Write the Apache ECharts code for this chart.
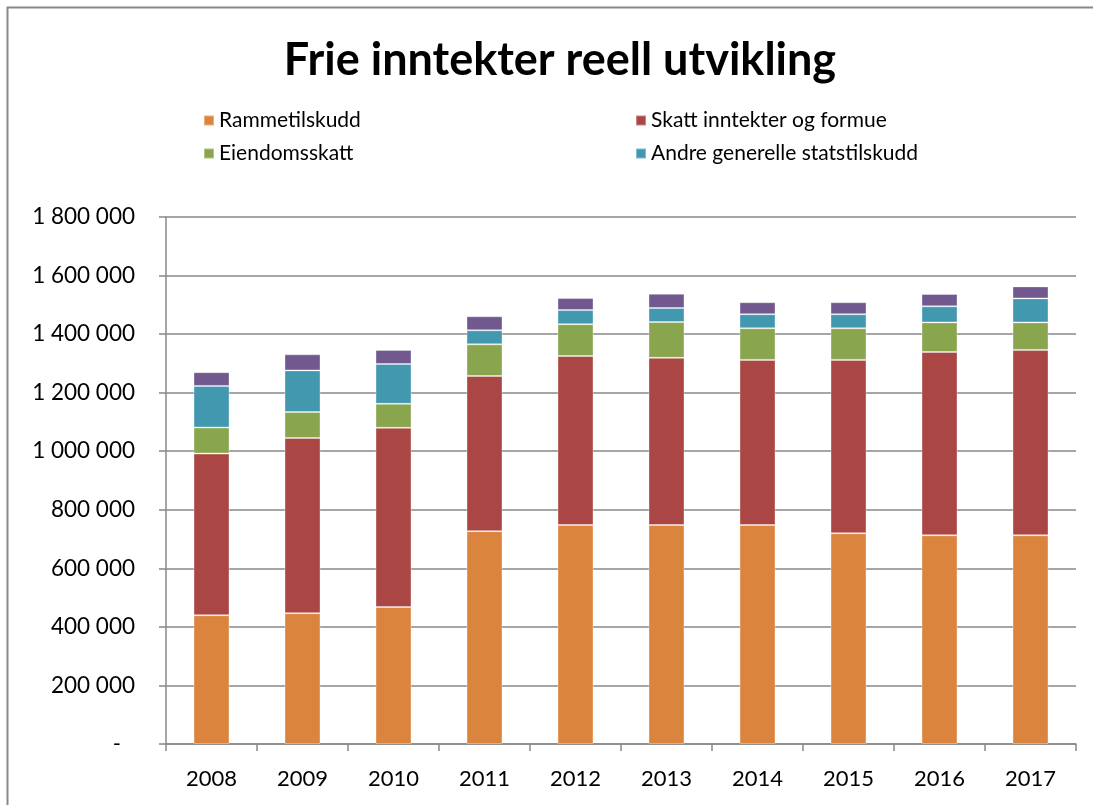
<!DOCTYPE html>
<html>
<head>
<meta charset="utf-8">
<script src="https://cdn.jsdelivr.net/npm/echarts@6/dist/echarts.min.js"></script>
<style>
html,body{margin:0;padding:0;background:#fff;}
#chart{width:1093px;height:805px;}
</style>
</head>
<body>
<div id="chart"></div>
<script>
const years = ['2008','2009','2010','2011','2012','2013','2014','2015','2016','2017'];
const rammetilskudd = [440000, 447000, 468000, 727000, 748000, 748000, 748000, 720000, 713000, 713000];
const skatt = [552000, 598000, 612000, 530000, 577000, 571000, 564000, 592000, 626000, 633000];
const eiendomsskatt = [89000, 89000, 82000, 108000, 109000, 122000, 108000, 108000, 101000, 94000];
const andreTilskudd = [142000, 142000, 136000, 48000, 48000, 48000, 48000, 48000, 55000, 82000];
const annet = [47000, 55000, 48000, 48000, 41000, 49000, 41000, 41000, 42000, 41000];
const yTicks = [0, 200000, 400000, 600000, 800000, 1000000, 1200000, 1400000, 1600000, 1800000];

const names = ['Rammetilskudd', 'Skatt inntekter og formue', 'Eiendomsskatt', 'Andre generelle statstilskudd', 'Annet'];
const colors = ['#DB843D', '#AA4643', '#89A54E', '#4198AF', '#71588F'];
const seriesData = [rammetilskudd, skatt, eiendomsskatt, andreTilskudd, annet];

const font = 'Lato, "Open Sans", sans-serif';
const chart = echarts.init(document.getElementById('chart'), null, {renderer: 'canvas'});

function fmt(v) {
  if (v === 0) return '{d|-}';
  return String(v).replace(/\B(?=(\d{3})+(?!\d))/g, ' ');
}

chart.setOption({
  animation: false,
  backgroundColor: '#fff',
  color: colors,
  title: {
    text: 'Frie inntekter reell utvikling',
    left: 555, top: 33, textAlign: 'center',
    textStyle: {fontFamily: font, fontWeight: 'bold', fontSize: 45, color: '#000'}
  },
  graphic: [{
    type: 'polyline',
    shape: {points: [[7.5, 805], [7.5, 7.5], [1093, 7.5]]},
    style: {stroke: '#888', lineWidth: 2, fill: null}
  }],
  legend: [{
    left: 198, top: 105, orient: 'vertical', itemGap: 12,
    itemWidth: 10, itemHeight: 10, icon: 'rect',
    data: ['Rammetilskudd', 'Eiendomsskatt'],
    textStyle: {fontFamily: font, fontSize: 21, color: '#000'}
  }, {
    left: 630, top: 105, orient: 'vertical', itemGap: 12,
    itemWidth: 10, itemHeight: 10, icon: 'rect',
    data: ['Skatt inntekter og formue', 'Andre generelle statstilskudd'],
    textStyle: {fontFamily: font, fontSize: 21, color: '#000'}
  }],
  grid: {left: 166, right: 17, top: 217, bottom: 61, containLabel: false},
  xAxis: {
    type: 'category', data: years,
    axisLine: {lineStyle: {color: '#888', width: 1.5}},
    axisTick: {show: true, length: 7, alignWithLabel: false, lineStyle: {color: '#888', width: 1.5}},
    axisLabel: {fontFamily: font, fontSize: 22, color: '#000', margin: 24}
  },
  yAxis: {
    type: 'value', min: yTicks[0], max: yTicks[yTicks.length - 1], interval: 200000,
    axisLine: {show: true, lineStyle: {color: '#888', width: 1.5}},
    axisTick: {show: true, inside: false, length: 7, lineStyle: {color: '#888', width: 1.5}},
    splitLine: {show: true, lineStyle: {color: '#888', width: 1.5}},
    axisLabel: {
      fontFamily: font, fontSize: 22.5, color: '#000', margin: 31,
      formatter: fmt,
      rich: {d: {fontFamily: font, fontSize: 22, color: '#000', padding: [0, 14, 0, 0]}}
    }
  },
  series: names.map((n, i) => ({
    name: n, type: 'bar', stack: 'total', barWidth: 36,
    data: seriesData[i],
    itemStyle: {color: colors[i], borderColor: 'rgba(255,255,255,0.35)', borderWidth: 1}
  }))
});
</script>
</body>
</html>
